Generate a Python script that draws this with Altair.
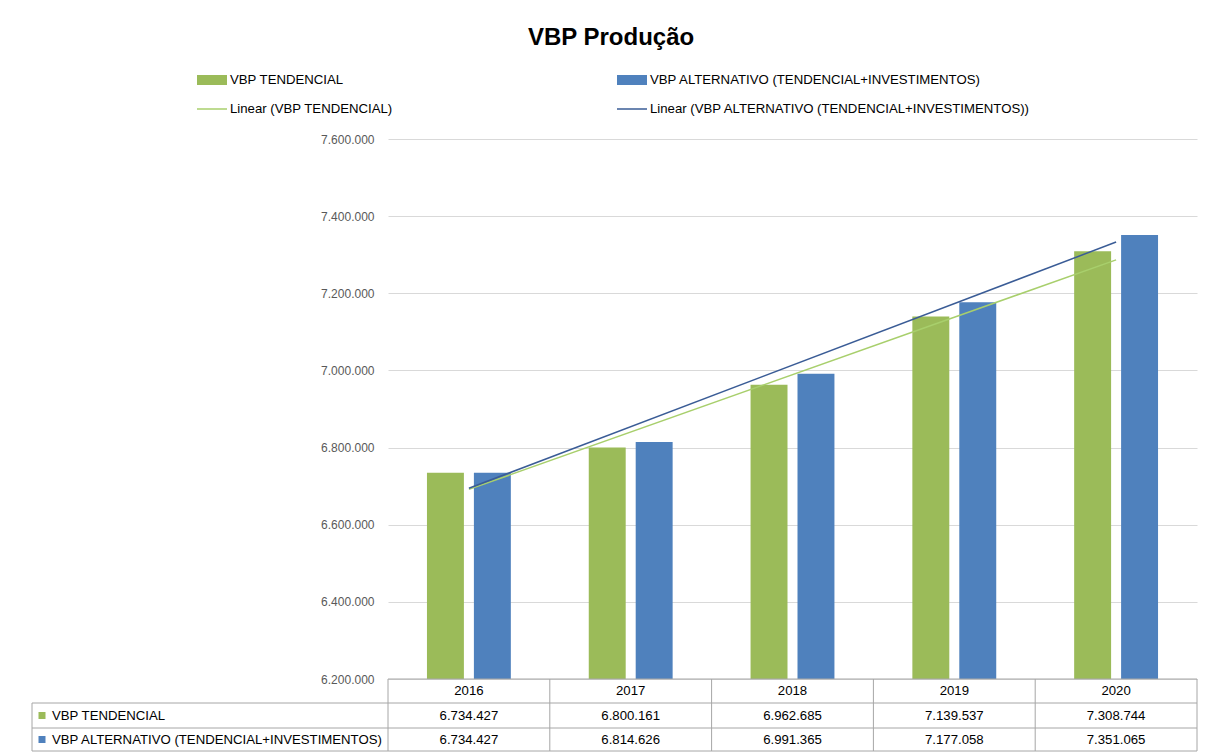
import altair as alt
import pandas as pd

# ---- data ----
years = [2016, 2017, 2018, 2019, 2020]
tendencial = [6734427, 6800161, 6962685, 7139537, 7308744]
alternativo = [6734427, 6814626, 6991365, 7177058, 7351065]
series_names = ["VBP TENDENCIAL", "VBP ALTERNATIVO (TENDENCIAL+INVESTIMENTOS)"]
trend_names = ["Linear (VBP TENDENCIAL)", "Linear (VBP ALTERNATIVO (TENDENCIAL+INVESTIMENTOS))"]
y_ticks = [6200000, 6400000, 6600000, 6800000, 7000000, 7200000, 7400000, 7600000]
title_text = "VBP Produção"

rows = []
for name, vals in zip(series_names, [tendencial, alternativo]):
    for yr, v in zip(years, vals):
        rows.append({"year": yr, "series": name, "value": v})
df = pd.DataFrame(rows)
df_years = pd.DataFrame({"year": years})
one = pd.DataFrame({"k": [0]})

# ---- style ----
W, H = 809, 540
FONT = "Liberation Sans"
GREEN, BLUE = "#9BBB59", "#4F81BD"
TGREEN, TBLUE = "#A8CF6C", "#3A5C96"
GRID = "#D9D9D9"
TAB = "#A6A6A6"
FS = 13.2
PT_FMT = "replace(format(datum.value, ','), regexp(',', 'g'), '.')"

X = alt.X("year:O", scale=alt.Scale(paddingInner=0, paddingOuter=0), axis=None)
Y = alt.Y("value:Q",
          scale=alt.Scale(domain=[6200000, 7600000], zero=False, nice=False),
          axis=alt.Axis(values=y_ticks, title=None, labelExpr=PT_FMT, grid=True,
                        gridColor=GRID, domain=False, ticks=False, labelPadding=14,
                        labelColor="#595959", labelFontSize=12, labelFont=FONT))

base = alt.Chart(df)

bars = base.mark_bar().encode(
    x=X,
    xOffset=alt.XOffset("series:N", sort=series_names,
                        scale=alt.Scale(domain=series_names, paddingInner=0.213, paddingOuter=0.83)),
    y=Y,
    y2=alt.datum(6200000),
    color=alt.Color("series:N", scale=alt.Scale(domain=series_names, range=[GREEN, BLUE]), legend=None),
)

trend = base.transform_regression("year", "value", groupby=["series"]).mark_line(strokeWidth=1.5).encode(
    x=X,
    y=Y,
    stroke=alt.Stroke("series:N", scale=alt.Scale(domain=series_names, range=[TGREEN, TBLUE]), legend=None),
)

def txt(**kw):
    d = dict(font=FONT, fontSize=FS, color="#000000")
    d.update(kw)
    return d

# ---- data table ----
ROW_TOP, ROW1, ROW2, ROW_BOT = 540, 564, 589, 612
year_text = alt.Chart(df_years).mark_text(**txt(baseline="middle")).encode(
    x=X, y=alt.value((ROW_TOP + ROW1) / 2), text="year:O")

val_layers = []
for name, (yt, yb) in zip(series_names, [(ROW1, ROW2), (ROW2, ROW_BOT)]):
    val_layers.append(
        base.transform_filter(alt.datum.series == name)
        .transform_calculate(lbl=PT_FMT)
        .mark_text(**txt(baseline="middle"))
        .encode(x=X, y=alt.value((yt + yb) / 2), text="lbl:N")
    )

vrules = alt.Chart(df_years).mark_rule(color=TAB, strokeWidth=1).encode(
    x=alt.X("year:O", bandPosition=0, scale=alt.Scale(paddingInner=0, paddingOuter=0), axis=None),
    y=alt.value(ROW_TOP), y2=alt.value(ROW_BOT))
rule_right = alt.Chart(one).mark_rule(color=TAB).encode(
    x=alt.value(W), y=alt.value(ROW_TOP), y2=alt.value(ROW_BOT))
rule_left = alt.Chart(one).mark_rule(color=TAB).encode(
    x=alt.value(-356), y=alt.value(ROW1), y2=alt.value(ROW_BOT))
hrule_top = alt.Chart(one).mark_rule(color=TAB).encode(
    x=alt.value(0), x2=alt.value(W), y=alt.value(ROW_TOP))
hrules = [alt.Chart(one).mark_rule(color=TAB).encode(
    x=alt.value(-356), x2=alt.value(W), y=alt.value(yy)) for yy in (ROW1, ROW2, ROW_BOT)]

row_labels = []
for name, col, (yt, yb) in zip(series_names, [GREEN, BLUE], [(ROW1, ROW2), (ROW2, ROW_BOT)]):
    yc = (yt + yb) / 2
    row_labels.append(alt.Chart(pd.DataFrame({"t": [name]})).mark_square(size=49, color=col, opacity=1).encode(
        x=alt.value(-346), y=alt.value(yc)))
    row_labels.append(alt.Chart(pd.DataFrame({"t": [name]})).mark_text(**txt(align="left", baseline="middle")).encode(
        x=alt.value(-336), y=alt.value(yc), text="t:N"))

# ---- legend ----
legend = []
L1Y, L2Y = -59, -30
for name, col, x0 in zip(series_names, [GREEN, BLUE], [-191, 229]):
    legend.append(alt.Chart(one).mark_rect(color=col).encode(
        x=alt.value(x0), x2=alt.value(x0 + 30), y=alt.value(L1Y - 5), y2=alt.value(L1Y + 5)))
    legend.append(alt.Chart(pd.DataFrame({"t": [name]})).mark_text(**txt(align="left", baseline="middle")).encode(
        x=alt.value(x0 + 33), y=alt.value(L1Y), text="t:N"))
for name, col, x0 in zip(trend_names, [TGREEN, TBLUE], [-191, 229]):
    legend.append(alt.Chart(one).mark_rule(color=col, strokeWidth=1.5).encode(
        x=alt.value(x0), x2=alt.value(x0 + 30), y=alt.value(L2Y)))
    legend.append(alt.Chart(pd.DataFrame({"t": [name]})).mark_text(**txt(align="left", baseline="middle")).encode(
        x=alt.value(x0 + 33), y=alt.value(L2Y), text="t:N"))

title = alt.Chart(pd.DataFrame({"t": [title_text]})).mark_text(
    **txt(fontSize=24, fontWeight="bold", align="center", baseline="middle")).encode(
    x=alt.value(223), y=alt.value(-101), text="t:N")

chart = alt.layer(
    bars, trend, year_text, *val_layers, vrules, rule_right, rule_left, hrule_top, *hrules,
    *row_labels, *legend, title
).properties(
    width=W, height=H,
    padding={"left": 380, "top": 131, "right": 11, "bottom": 75},
    autosize=alt.AutoSizeParams(type="none"),
    background="white",
).configure_view(stroke=None)

chart.save("out.html", embed_options={"renderer": "svg", "actions": False})
